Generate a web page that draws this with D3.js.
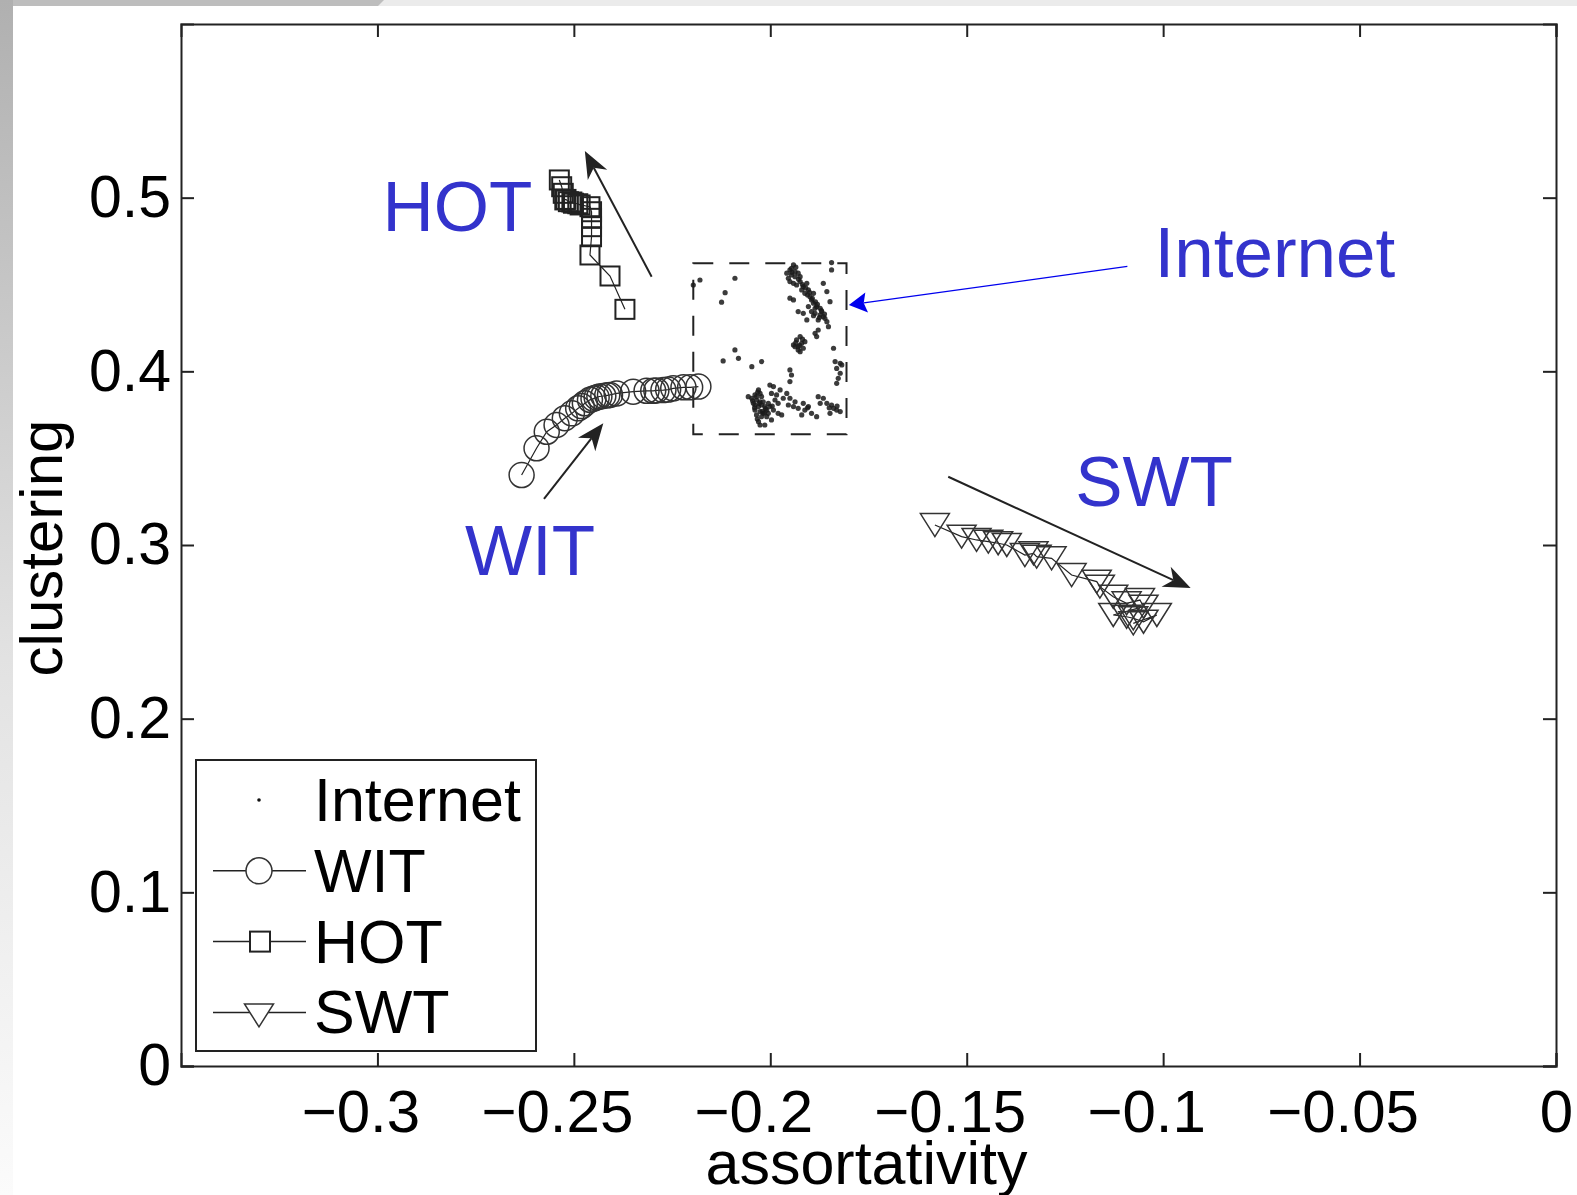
<!DOCTYPE html>
<html>
<head>
<meta charset="utf-8">
<script src="https://cdn.jsdelivr.net/npm/d3@7"></script>
<style>
body { margin: 0; background: #fff; }
svg { display: block; font-family: "Liberation Sans", Arial, Helvetica, sans-serif; }
.axis path, .axis line { stroke: #222; stroke-width: 2; }
.axis text { fill: #000; }
</style>
</head>
<body>
<div id="chart"></div>
<script>
// ticks
const xTicks = [-0.3, -0.25, -0.2, -0.15, -0.1, -0.05, 0];
const xTickLabels = ['\u22120.3', '\u22120.25', '\u22120.2', '\u22120.15', '\u22120.1', '\u22120.05', '0'];
const yTicks = [0, 0.1, 0.2, 0.3, 0.4, 0.5];
const yTickLabels = ['0', '0.1', '0.2', '0.3', '0.4', '0.5'];

// series
const seriesNames = ['Internet', 'WIT', 'HOT', 'SWT'];

const witX = [-0.2633, -0.2595, -0.2569, -0.2544, -0.2523, -0.2505, -0.2489, -0.2480, -0.2472, -0.2459, -0.2450, -0.2442, -0.2435, -0.2425, -0.2415, -0.2408, -0.2391, -0.2349, -0.2315, -0.2298, -0.2290, -0.2272, -0.2260, -0.2247, -0.2221, -0.2204, -0.2183];
const witY = [0.3403, 0.3557, 0.3652, 0.3691, 0.3730, 0.3758, 0.3787, 0.3800, 0.3816, 0.3836, 0.3843, 0.3850, 0.3855, 0.3858, 0.3862, 0.3864, 0.3873, 0.3883, 0.3888, 0.3888, 0.3890, 0.3892, 0.3895, 0.3902, 0.3908, 0.3908, 0.3912];

const hotX = [-0.2537, -0.2531, -0.2527, -0.2523, -0.2520, -0.2514, -0.2505, -0.2501, -0.2490, -0.2484, -0.2459, -0.2455, -0.2455, -0.2455, -0.2455, -0.2459, -0.2408, -0.2370];
const hotY = [0.5102, 0.5063, 0.5025, 0.4987, 0.4990, 0.4977, 0.4975, 0.4968, 0.4965, 0.4958, 0.4948, 0.4919, 0.4881, 0.4833, 0.4775, 0.4670, 0.4549, 0.4357];

const swtX = [-0.1581, -0.1513, -0.1475, -0.1445, -0.1420, -0.1398, -0.1352, -0.1330, -0.1322, -0.1284, -0.1233, -0.1169, -0.1161, -0.1127, -0.1093, -0.1059, -0.1050, -0.1127, -0.1093, -0.1076, -0.1050, -0.1016, -0.1076];
const swtY = [0.3115, 0.3048, 0.3029, 0.3019, 0.3010, 0.3000, 0.2942, 0.2952, 0.2933, 0.2923, 0.2827, 0.2789, 0.2760, 0.2702, 0.2664, 0.2683, 0.2645, 0.2597, 0.2587, 0.2578, 0.2558, 0.2597, 0.2549];

const internetX = [
  -0.2179, -0.2196, -0.2090, -0.2115, -0.2124, -0.2090, -0.2081, -0.2120, -0.2022, -0.2047,
  -0.1941, -0.1950, -0.1958, -0.1946, -0.1954, -0.1937, -0.1929, -0.1950, -0.1941, -0.1933,
  -0.1924, -0.1916, -0.1907, -0.1903, -0.1912, -0.1899, -0.1890, -0.1950, -0.1941, -0.1890,
  -0.1882, -0.1873, -0.1895, -0.1886, -0.1873, -0.1865, -0.1878, -0.1856, -0.1907, -0.1929,
  -0.1916, -0.1852, -0.1844, -0.1844, -0.1865, -0.1856, -0.1848, -0.1878, -0.1886, -0.1882,
  -0.1946, -0.1937, -0.1924, -0.1895, -0.1886, -0.1903, -0.1869, -0.1861, -0.1920,
  -0.1941, -0.1933, -0.1924, -0.1920, -0.1916, -0.1929, -0.1937, -0.1912, -0.1924, -0.1929, -0.1839,
  -0.1835, -0.1822, -0.1831, -0.1822, -0.1827, -0.1831, -0.1818,
  -0.2030, -0.2039, -0.2047, -0.2035, -0.2026, -0.2043, -0.2030, -0.2022, -0.2039, -0.2026,
  -0.2018, -0.2009, -0.2035, -0.2022, -0.2009, -0.2030, -0.2026, -0.2001, -0.1992, -0.1997,
  -0.1984, -0.1988, -0.1980, -0.2001, -0.1992, -0.1980, -0.1971, -0.1997, -0.2014,
  -0.2035, -0.2022, -0.2018, -0.2039, -0.2014, -0.2026, -0.2005, -0.2056,
  -0.1950, -0.1946, -0.1950, -0.1958, -0.1950, -0.1954, -0.1941, -0.1937, -0.1929, -0.1916,
  -0.1912, -0.1903, -0.1895, -0.1882, -0.1920, -0.1878, -0.1865, -0.1856, -0.1873, -0.1844,
  -0.1839, -0.1831, -0.1822, -0.1848, -0.1975, -0.1967,
  -0.1935, -0.1945, -0.1928, -0.1918, -0.1910, -0.1900, -0.1893, -0.1885, -0.1880, -0.1870,
  -0.1862, -0.1890, -0.1875, -0.1905, -0.1935, -0.1925, -0.1918,
  -0.2032, -0.2045, -0.2028, -0.2012, -0.2020, -0.2040, -0.2005, -0.1995, -0.2033, -0.2015,
  -0.1850, -0.1830, -0.1905
];
const internetY = [
  0.4526, 0.4497, 0.4536, 0.4453, 0.4398, 0.4123, 0.4075, 0.4060, 0.4056, 0.4027,
  0.4613, 0.4584, 0.4565, 0.4555, 0.4536, 0.4545, 0.4565, 0.4517, 0.4507, 0.4497,
  0.4517, 0.4488, 0.4507, 0.4469, 0.4449, 0.4430, 0.4449, 0.4421, 0.4411, 0.4392,
  0.4373, 0.4363, 0.4344, 0.4334, 0.4325, 0.4315, 0.4296, 0.4286, 0.4296, 0.4344,
  0.4334, 0.4257, 0.4584, 0.4626, 0.4507, 0.4459, 0.4401, 0.4238, 0.4219, 0.4200,
  0.4593, 0.4574, 0.4545, 0.4411, 0.4363, 0.4373, 0.4344, 0.4305, 0.4469,
  0.4152, 0.4181, 0.4200, 0.4161, 0.4133, 0.4123, 0.4142, 0.4171, 0.4113, 0.4142, 0.4133,
  0.4056, 0.4046, 0.4017, 0.3989, 0.3960, 0.3931, 0.4037,
  0.3893, 0.3864, 0.3845, 0.3835, 0.3825, 0.3816, 0.3797, 0.3806, 0.3777, 0.3768,
  0.3758, 0.3777, 0.3749, 0.3739, 0.3739, 0.3710, 0.3691, 0.3921, 0.3912, 0.3873,
  0.3864, 0.3835, 0.3816, 0.3797, 0.3777, 0.3758, 0.3749, 0.3720, 0.3691,
  0.3854, 0.3854, 0.3825, 0.3806, 0.3797, 0.3873, 0.3758, 0.3854,
  0.4008, 0.3979, 0.3941, 0.3873, 0.3845, 0.3806, 0.3797, 0.3825, 0.3787, 0.3816,
  0.3777, 0.3797, 0.3758, 0.3739, 0.3749, 0.3854, 0.3845, 0.3816, 0.3816, 0.3806,
  0.3787, 0.3777, 0.3768, 0.3758, 0.3893, 0.3845,
  0.4600, 0.4570, 0.4530, 0.4500, 0.4480, 0.4455, 0.4420, 0.4400, 0.4385, 0.4350,
  0.4330, 0.4320, 0.4310, 0.4440, 0.4165, 0.4150, 0.4185,
  0.3880, 0.3830, 0.3815, 0.3785, 0.3770, 0.3790, 0.3815, 0.3800, 0.3725, 0.3760,
  0.3790, 0.3800, 0.3790
];
// dashed box round the Internet cloud: x0, x1, y0, y1
const internetBox = [-0.2196, -0.1806, 0.3637, 0.4622];

// blue annotations
const noteLabels = ['HOT', 'Internet', 'SWT', 'WIT'];
const noteX = [-0.2987, -0.1022, -0.1224, -0.2777];
const noteY = [0.4810, 0.4545, 0.3225, 0.2825];

// arrows: HOT, WIT, SWT, Internet
const arrowFromX = [-0.2302, -0.2576, -0.1547, -0.1091];
const arrowFromY = [0.4545, 0.3266, 0.3393, 0.4604];
const arrowToX = [-0.2472, -0.2425, -0.0930, -0.1800];
const arrowToY = [0.5269, 0.3701, 0.2752, 0.4382];
const arrowBlue = [false, false, false, true];

const W = 1577, H = 1195;
const mLeft = 181, mRight = 1556, mTop = 24, mBottom = 1066;
const blue = '#3333cc';
const ink = '#222';

const svg = d3.select('#chart').append('svg')
  .attr('width', W)
  .attr('height', H);

// slide frame
const defs = svg.append('defs');
const grad = defs.append('linearGradient')
  .attr('id', 'sideGrad')
  .attr('x1', 0).attr('y1', 0).attr('x2', 0).attr('y2', 1);
grad.append('stop').attr('offset', '0%').attr('stop-color', '#b0b0b0');
grad.append('stop').attr('offset', '55%').attr('stop-color', '#e2e2e2');
grad.append('stop').attr('offset', '100%').attr('stop-color', '#fbfbfb');

svg.append('rect').attr('x', 0).attr('y', 0).attr('width', W).attr('height', 6).attr('fill', '#ebebeb');
svg.append('path').attr('d', 'M0,0 L384,0 L378,6 L0,6 Z').attr('fill', '#bdbdbd');
svg.append('rect').attr('x', 0).attr('y', 0).attr('width', 13).attr('height', H).attr('fill', 'url(#sideGrad)');

const x = d3.scaleLinear().domain([-0.35, 0]).range([mLeft, mRight]);
const y = d3.scaleLinear().domain([0, 0.6]).range([mBottom, mTop]);

// axes, ticks pointing inward on all four sides
svg.append('g').attr('class', 'axis')
  .attr('transform', `translate(0,${mBottom})`)
  .call(d3.axisBottom(x).tickValues(xTicks).tickSize(-13).tickPadding(23)
    .tickFormat((d, i) => xTickLabels[i]))
  .selectAll('text')
  .attr('font-size', 60)
  .attr('dx', d => d < 0 ? -17 : 0);

svg.append('g').attr('class', 'axis')
  .attr('transform', `translate(${mLeft},0)`)
  .call(d3.axisLeft(y).tickValues(yTicks).tickSize(-13).tickPadding(10)
    .tickFormat((d, i) => yTickLabels[i]))
  .selectAll('text')
  .attr('font-size', 59);

svg.append('g').attr('class', 'axis')
  .attr('transform', `translate(0,${mTop})`)
  .call(d3.axisTop(x).tickValues(xTicks).tickSize(-13).tickFormat(''));

svg.append('g').attr('class', 'axis')
  .attr('transform', `translate(${mRight},0)`)
  .call(d3.axisRight(y).tickValues(yTicks).tickSize(-13).tickFormat(''));

svg.append('text')
  .attr('x', (mLeft + mRight) / 2 - 2)
  .attr('y', 1184)
  .attr('text-anchor', 'middle')
  .attr('font-size', 61)
  .text('assortativity');

svg.append('text')
  .attr('transform', `translate(62,${(mTop + mBottom) / 2 + 3}) rotate(-90)`)
  .attr('text-anchor', 'middle')
  .attr('font-size', 60)
  .text('clustering');

// marker shapes
const tri = (cx, cy, w, h) => `M${cx - w / 2},${cy - h / 2} L${cx + w / 2},${cy - h / 2} L${cx},${cy + h / 2} Z`;

const plot = svg.append('g');

const line = d3.line().x(d => x(d[0])).y(d => y(d[1]));

// Internet cloud
plot.append('rect')
  .attr('x', x(internetBox[0]))
  .attr('y', y(internetBox[3]))
  .attr('width', x(internetBox[1]) - x(internetBox[0]))
  .attr('height', y(internetBox[2]) - y(internetBox[3]))
  .attr('fill', 'none')
  .attr('stroke', ink)
  .attr('stroke-width', 2)
  .attr('stroke-dasharray', '20,16');

plot.selectAll('.inet')
  .data(d3.zip(internetX, internetY))
  .enter()
  .append('circle')
  .attr('class', 'inet')
  .attr('cx', d => x(d[0]))
  .attr('cy', d => y(d[1]))
  .attr('r', 2.6)
  .attr('fill', '#1a1a1a')
  .attr('fill-opacity', 0.85);

// WIT
const wit = d3.zip(witX, witY);
plot.append('path').attr('d', line(wit)).attr('fill', 'none').attr('stroke', ink).attr('stroke-width', 1.2);
plot.selectAll('.wit')
  .data(wit)
  .enter()
  .append('circle')
  .attr('class', 'wit')
  .attr('cx', d => x(d[0]))
  .attr('cy', d => y(d[1]))
  .attr('r', 12.5)
  .attr('fill', 'none')
  .attr('stroke', '#333')
  .attr('stroke-width', 1.5);

// HOT
const hot = d3.zip(hotX, hotY);
plot.append('path').attr('d', line(hot)).attr('fill', 'none').attr('stroke', ink).attr('stroke-width', 1.2);
plot.selectAll('.hot')
  .data(hot)
  .enter()
  .append('rect')
  .attr('class', 'hot')
  .attr('x', d => x(d[0]) - 9.5)
  .attr('y', d => y(d[1]) - 9.5)
  .attr('width', 19)
  .attr('height', 19)
  .attr('fill', 'none')
  .attr('stroke', ink)
  .attr('stroke-width', 2);

// SWT
const swt = d3.zip(swtX, swtY);
plot.append('path').attr('d', line(swt)).attr('fill', 'none').attr('stroke', ink).attr('stroke-width', 1.2);
plot.selectAll('.swt')
  .data(swt)
  .enter()
  .append('path')
  .attr('class', 'swt')
  .attr('d', d => tri(x(d[0]), y(d[1]), 29, 23))
  .attr('fill', 'none')
  .attr('stroke', '#333')
  .attr('stroke-width', 1.5);

// arrows
arrowFromX.forEach((fx, i) => {
  const x0 = x(fx), y0 = y(arrowFromY[i]);
  const x1 = x(arrowToX[i]), y1 = y(arrowToY[i]);
  const len = Math.hypot(x1 - x0, y1 - y0);
  const ux = (x1 - x0) / len, uy = (y1 - y0) / len;
  const nx = -uy, ny = ux;
  const col = arrowBlue[i] ? '#0000ee' : ink;
  const L = arrowBlue[i] ? 18 : 27, hw = arrowBlue[i] ? 10 : 11, notch = arrowBlue[i] ? 3 : 8;
  plot.append('line')
    .attr('x1', x0).attr('y1', y0)
    .attr('x2', x1 - ux * (L - notch)).attr('y2', y1 - uy * (L - notch))
    .attr('stroke', col)
    .attr('stroke-width', arrowBlue[i] ? 1.2 : 2);
  const pts = [
    [x1, y1],
    [x1 - ux * L + nx * hw, y1 - uy * L + ny * hw],
    [x1 - ux * (L - notch), y1 - uy * (L - notch)],
    [x1 - ux * L - nx * hw, y1 - uy * L - ny * hw]
  ];
  plot.append('path')
    .attr('d', 'M' + pts.map(p => p.join(',')).join('L') + 'Z')
    .attr('fill', col);
});

// blue labels
plot.selectAll('.note')
  .data(noteLabels)
  .enter()
  .append('text')
  .attr('class', 'note')
  .attr('x', (d, i) => x(noteX[i]))
  .attr('y', (d, i) => y(noteY[i]))
  .attr('font-size', 71)
  .attr('fill', blue)
  .text(d => d);

// legend
const lg = svg.append('g');
lg.append('rect')
  .attr('x', 196).attr('y', 760)
  .attr('width', 340).attr('height', 291)
  .attr('fill', '#fff')
  .attr('stroke', ink)
  .attr('stroke-width', 2);

seriesNames.forEach((name, i) => {
  const cy = 800 + i * 70.8;
  const row = lg.append('g');
  if (i > 0) {
    row.append('line')
      .attr('x1', 213).attr('x2', 306)
      .attr('y1', cy).attr('y2', cy)
      .attr('stroke', ink).attr('stroke-width', 1.5);
  }
  if (i === 0) {
    row.append('circle').attr('cx', 259).attr('cy', cy).attr('r', 1.8).attr('fill', '#111');
  } else if (i === 1) {
    row.append('circle').attr('cx', 259).attr('cy', cy).attr('r', 13)
      .attr('fill', '#fff').attr('stroke', '#333').attr('stroke-width', 1.5);
  } else if (i === 2) {
    row.append('rect').attr('x', 250).attr('y', cy - 10).attr('width', 20).attr('height', 20)
      .attr('fill', '#fff').attr('stroke', ink).attr('stroke-width', 2);
  } else {
    row.append('path').attr('d', tri(259, cy + 3, 29, 23))
      .attr('fill', '#fff').attr('stroke', '#333').attr('stroke-width', 1.5);
  }
  row.append('text')
    .attr('x', 314)
    .attr('y', cy + 21)
    .attr('font-size', 61)
    .text(name);
});
</script>
</body>
</html>
